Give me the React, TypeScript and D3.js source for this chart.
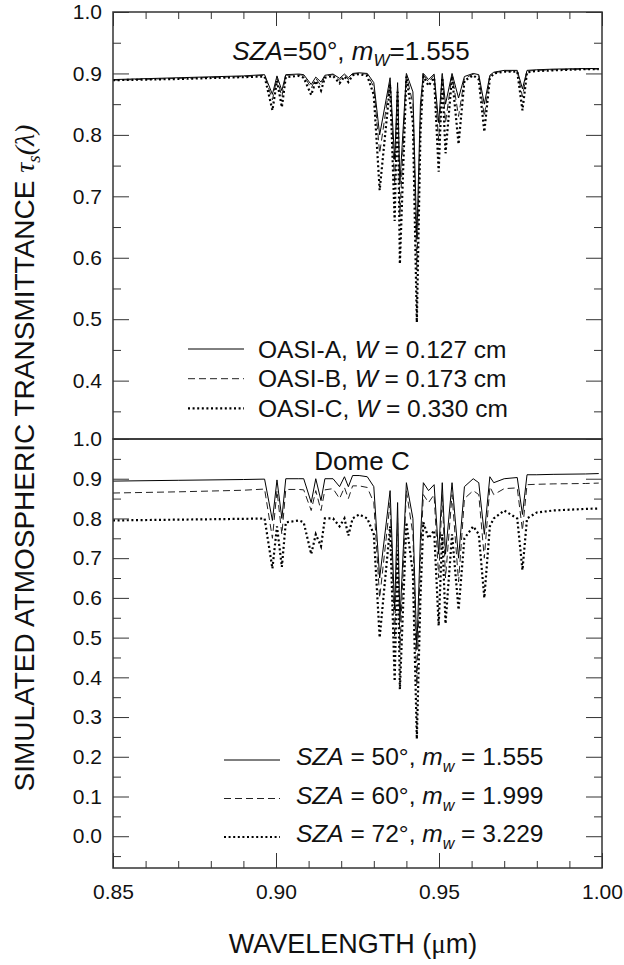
import React, { useEffect, useRef } from 'react';
import * as d3 from 'd3';

// wavelength grid (um), shared by all six curves
const wavelength = [0.850, 0.870, 0.890, 0.8965, 0.8989, 0.9003, 0.9018, 0.9030, 0.9070, 0.9085,
  0.9108, 0.9122, 0.9138, 0.9150, 0.9175, 0.9195, 0.9210, 0.9222, 0.9235, 0.9255,
  0.9280, 0.9300, 0.9318, 0.9350, 0.9364, 0.9373, 0.9380, 0.9400, 0.9420, 0.9432,
  0.9443, 0.9452, 0.9468, 0.9485, 0.9499, 0.9510, 0.9520, 0.9540, 0.9560, 0.9578,
  0.9605, 0.9622, 0.9639, 0.9656, 0.9668, 0.9700, 0.9740, 0.9756, 0.9770, 0.9800,
  0.9850, 0.9950, 0.9990];

// top panel: SZA = 50 deg, three water vapour amounts
const oasiA = [0.890, 0.893, 0.896, 0.898, 0.866, 0.896, 0.872, 0.898, 0.899, 0.898,
  0.882, 0.894, 0.886, 0.897, 0.899, 0.892, 0.899, 0.893, 0.900, 0.901,
  0.900, 0.885, 0.800, 0.893, 0.760, 0.885, 0.720, 0.900, 0.870, 0.630,
  0.850, 0.900, 0.890, 0.899, 0.820, 0.900, 0.850, 0.900, 0.860, 0.895,
  0.900, 0.898, 0.850, 0.897, 0.902, 0.905, 0.905, 0.875, 0.905, 0.906,
  0.907, 0.908, 0.908];
const oasiB = [0.889, 0.892, 0.895, 0.897, 0.857, 0.893, 0.862, 0.897, 0.898, 0.897,
  0.876, 0.892, 0.880, 0.896, 0.898, 0.889, 0.898, 0.890, 0.899, 0.900,
  0.899, 0.878, 0.770, 0.888, 0.720, 0.880, 0.670, 0.898, 0.850, 0.580,
  0.830, 0.898, 0.886, 0.897, 0.790, 0.898, 0.820, 0.898, 0.830, 0.892,
  0.899, 0.896, 0.830, 0.895, 0.901, 0.904, 0.904, 0.862, 0.904, 0.905,
  0.906, 0.907, 0.907];
const oasiC = [0.889, 0.891, 0.894, 0.895, 0.840, 0.888, 0.845, 0.894, 0.896, 0.893,
  0.865, 0.888, 0.872, 0.893, 0.896, 0.884, 0.895, 0.886, 0.897, 0.899,
  0.896, 0.865, 0.710, 0.882, 0.660, 0.870, 0.590, 0.895, 0.820, 0.495,
  0.800, 0.895, 0.880, 0.893, 0.740, 0.893, 0.770, 0.895, 0.785, 0.888,
  0.897, 0.890, 0.805, 0.892, 0.900, 0.903, 0.903, 0.840, 0.902, 0.904,
  0.905, 0.907, 0.907];

// bottom panel: Dome C, three solar zenith angles
const sza50 = [0.894, 0.896, 0.898, 0.899, 0.795, 0.897, 0.800, 0.900, 0.900, 0.900,
  0.840, 0.900, 0.845, 0.900, 0.900, 0.880, 0.905, 0.880, 0.908, 0.908,
  0.905, 0.880, 0.650, 0.870, 0.570, 0.840, 0.540, 0.890, 0.800, 0.470,
  0.750, 0.890, 0.870, 0.885, 0.710, 0.890, 0.710, 0.890, 0.700, 0.880,
  0.900, 0.890, 0.760, 0.905, 0.890, 0.900, 0.903, 0.810, 0.910, 0.910,
  0.911, 0.912, 0.913];
const sza60 = [0.864, 0.867, 0.871, 0.874, 0.750, 0.870, 0.760, 0.873, 0.873, 0.872,
  0.820, 0.870, 0.820, 0.872, 0.875, 0.850, 0.878, 0.850, 0.882, 0.882,
  0.878, 0.840, 0.600, 0.840, 0.500, 0.800, 0.470, 0.870, 0.760, 0.380,
  0.700, 0.860, 0.840, 0.860, 0.650, 0.860, 0.650, 0.860, 0.640, 0.850,
  0.870, 0.860, 0.700, 0.880, 0.860, 0.875, 0.877, 0.770, 0.885, 0.886,
  0.887, 0.888, 0.889];
const sza72 = [0.795, 0.797, 0.799, 0.800, 0.674, 0.780, 0.678, 0.790, 0.795, 0.790,
  0.710, 0.760, 0.730, 0.800, 0.800, 0.780, 0.800, 0.757, 0.800, 0.810,
  0.800, 0.760, 0.500, 0.780, 0.390, 0.720, 0.370, 0.790, 0.660, 0.245,
  0.600, 0.790, 0.750, 0.770, 0.530, 0.760, 0.535, 0.760, 0.570, 0.750,
  0.780, 0.760, 0.600, 0.780, 0.800, 0.820, 0.800, 0.670, 0.800, 0.815,
  0.820, 0.824, 0.825];

const xTickLabels = [0.85, 0.90, 0.95, 1.00];
const topYTickLabels = [0.4, 0.5, 0.6, 0.7, 0.8, 0.9, 1.0];
const botYTickLabels = [0.0, 0.1, 0.2, 0.3, 0.4, 0.5, 0.6, 0.7, 0.8, 0.9, 1.0];

const topLegend = [
  { name: 'OASI-A', w: '0.127' },
  { name: 'OASI-B', w: '0.173' },
  { name: 'OASI-C', w: '0.330' },
];
const botLegend = [
  { sza: '50', m: '1.555' },
  { sza: '60', m: '1.999' },
  { sza: '72', m: '3.229' },
];

const styles = [
  { width: 1, dash: null },
  { width: 1, dash: '7,4' },
  { width: 2.2, dash: '2,2.6' },
];

const FONT = 'Liberation Sans, Arial, sans-serif';
const SERIF = 'Liberation Serif, serif';

export default function App() {
  const ref = useRef<SVGSVGElement>(null);

  useEffect(() => {
    const svg = d3.select(ref.current);
    svg.selectAll('*').remove();

    const left = 113, right = 602;
    const x = d3.scaleLinear().domain([0.85, 1.0]).range([left, right]);
    const yTop = d3.scaleLinear().domain([0.305, 1.0]).range([439, 12]);
    const yBot = d3.scaleLinear().domain([-0.08, 1.0]).range([868, 439]);

    const xMinor = d3.range(0.85, 1.0005, 0.01).filter((v) => Math.abs(v * 20 - Math.round(v * 20)) > 1e-6);

    const panels = [
      { y: yTop, labels: topYTickLabels, series: [oasiA, oasiB, oasiC], id: 'clipTop', minLo: 0.35 },
      { y: yBot, labels: botYTickLabels, series: [sza50, sza60, sza72], id: 'clipBot', minLo: -0.05 },
    ];

    panels.forEach((p, pi) => {
      const [y0, y1] = p.y.range();
      const yMinor = d3.range(p.minLo, 1.0, 0.1);

      svg.append('clipPath').attr('id', p.id)
        .append('rect')
        .attr('x', left).attr('y', y1)
        .attr('width', right - left).attr('height', y0 - y1);

      // curves
      const line = d3.line<number>()
        .x((_, i) => x(wavelength[i]))
        .y((d) => p.y(d));
      const g = svg.append('g').attr('clip-path', `url(#${p.id})`);
      p.series.forEach((s, si) => {
        g.append('path')
          .attr('d', line(s))
          .attr('fill', 'none')
          .attr('stroke', si === 1 ? '#222' : '#000')
          .attr('stroke-width', styles[si].width)
          .attr('stroke-dasharray', styles[si].dash);
      });

      // left axis with labels, inward ticks
      const la = svg.append('g').attr('transform', `translate(${left},0)`)
        .call(d3.axisLeft(p.y).tickValues(p.labels).tickSizeInner(-16).tickSizeOuter(0)
          .tickPadding(11).tickFormat(d3.format('.1f')));
      la.append('g').call(d3.axisLeft(p.y).tickValues(yMinor).tickSizeInner(-8).tickSizeOuter(0)
        .tickFormat(() => ''));
      la.selectAll('.domain').remove();
      la.attr('font-size', 21).attr('font-family', FONT).attr('color', '#333');
      la.selectAll('text').attr('fill', '#111');

      // right axis, ticks only
      const ra = svg.append('g').attr('transform', `translate(${right},0)`)
        .call(d3.axisRight(p.y).tickValues(p.labels).tickSizeInner(-16).tickSizeOuter(0).tickFormat(() => ''));
      ra.append('g').call(d3.axisRight(p.y).tickValues(yMinor).tickSizeInner(-8).tickSizeOuter(0)
        .tickFormat(() => ''));
      ra.selectAll('.domain').remove();
      ra.attr('color', '#333');

      if (pi === 0) {
        const ta = svg.append('g').attr('transform', `translate(0,${y1})`)
          .call(d3.axisTop(x).tickValues(xTickLabels).tickSizeInner(-14).tickSizeOuter(0).tickFormat(() => ''));
        ta.append('g').call(d3.axisTop(x).tickValues(xMinor).tickSizeInner(-7).tickSizeOuter(0).tickFormat(() => ''));
        ta.selectAll('.domain').remove();
        ta.attr('color', '#333');
      } else {
        const ba = svg.append('g').attr('transform', `translate(0,${y0})`)
          .call(d3.axisBottom(x).tickValues(xTickLabels).tickSizeInner(-15).tickSizeOuter(0)
            .tickPadding(16).tickFormat(d3.format('.2f')));
        ba.append('g').call(d3.axisBottom(x).tickValues(xMinor).tickSizeInner(-7).tickSizeOuter(0).tickFormat(() => ''));
        ba.selectAll('.domain').remove();
        ba.attr('font-size', 21).attr('font-family', FONT).attr('color', '#333');
        ba.selectAll('text').attr('fill', '#111');
      }

      // frame
      svg.append('rect')
        .attr('x', left).attr('y', y1)
        .attr('width', right - left).attr('height', y0 - y1)
        .attr('fill', 'none').attr('stroke', '#333').attr('stroke-width', 1.5);
    });

    // titles inside the panels
    const t1 = svg.append('text').attr('x', 351).attr('y', 60)
      .attr('text-anchor', 'middle').attr('font-family', FONT).attr('font-size', 26).attr('fill', '#111');
    t1.append('tspan').attr('font-style', 'italic').text('SZA');
    t1.append('tspan').text('=50°, ');
    t1.append('tspan').attr('font-style', 'italic').text('m');
    t1.append('tspan').attr('font-style', 'italic').attr('font-size', 17).attr('dy', 6).text('W');
    t1.append('tspan').attr('dy', -6).text('=1.555');

    svg.append('text').attr('x', 362).attr('y', 470)
      .attr('text-anchor', 'middle').attr('font-family', FONT).attr('font-size', 26).attr('fill', '#111')
      .text('Dome C');

    // top legend
    topLegend.forEach((d, i) => {
      const ly = 349 + i * 29.7;
      svg.append('line').attr('x1', 188).attr('x2', 244).attr('y1', ly).attr('y2', ly)
        .attr('stroke', i === 1 ? '#222' : '#000')
        .attr('stroke-width', styles[i].width)
        .attr('stroke-dasharray', styles[i].dash);
      const t = svg.append('text').attr('x', 258).attr('y', ly + 8.5)
        .attr('font-family', FONT).attr('font-size', 24.5).attr('fill', '#111');
      t.append('tspan').text(`${d.name}, `);
      t.append('tspan').attr('font-style', 'italic').text('W');
      t.append('tspan').text(` = ${d.w} cm`);
    });

    // bottom legend
    botLegend.forEach((d, i) => {
      const ly = 760 + i * 38.5;
      svg.append('line').attr('x1', 224).attr('x2', 280).attr('y1', ly).attr('y2', ly)
        .attr('stroke', i === 1 ? '#222' : '#000')
        .attr('stroke-width', styles[i].width)
        .attr('stroke-dasharray', styles[i].dash);
      const t = svg.append('text').attr('x', 296).attr('y', ly + 5)
        .attr('font-family', FONT).attr('font-size', 24.5).attr('fill', '#111');
      t.append('tspan').attr('font-style', 'italic').text('SZA');
      t.append('tspan').text(` = ${d.sza}°, `);
      t.append('tspan').attr('font-style', 'italic').text('m');
      t.append('tspan').attr('font-style', 'italic').attr('font-size', 16).attr('dy', 7).text('w');
      t.append('tspan').attr('dy', -7).text(` = ${d.m}`);
    });

    // axis titles
    const xt = svg.append('text').attr('x', 353).attr('y', 953)
      .attr('text-anchor', 'middle').attr('font-family', FONT).attr('font-size', 27).attr('fill', '#111');
    xt.append('tspan').text('WAVELENGTH (');
    xt.append('tspan').attr('font-family', SERIF).text('μ');
    xt.append('tspan').text('m)');

    const yt = svg.append('text')
      .attr('transform', 'translate(34,458) rotate(-90)')
      .attr('text-anchor', 'middle').attr('font-family', FONT).attr('font-size', 28).attr('fill', '#111');
    yt.append('tspan').text('SIMULATED ATMOSPHERIC TRANSMITTANCE ');
    yt.append('tspan').attr('font-family', SERIF).attr('font-style', 'italic').text('τ');
    yt.append('tspan').attr('font-family', SERIF).attr('font-style', 'italic')
      .attr('font-size', 19).attr('dy', 6).text('s');
    yt.append('tspan').attr('font-family', SERIF).attr('font-style', 'italic')
      .attr('dy', -6).text('(λ)');
  }, []);

  return (
    <svg ref={ref} width={624} height={965}
      style={{ position: 'absolute', left: 0, top: 0, background: '#fff' }} />
  );
}
